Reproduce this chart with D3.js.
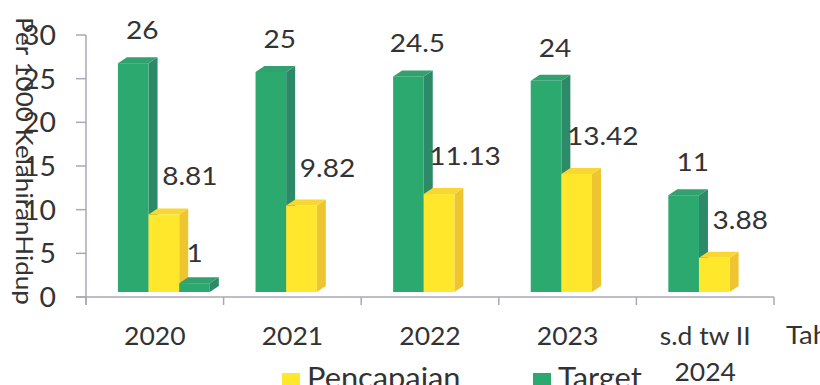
<!DOCTYPE html>
<html>
<head>
<meta charset="utf-8">
<script src="https://cdn.jsdelivr.net/npm/d3@7"></script>
<style>
  html, body { margin: 0; padding: 0; background: #ffffff; }
  svg { display: block; }
  text { font-family: Lato, "Open Sans", sans-serif; fill: #333333; }
</style>
</head>
<body>
<svg id="chart" width="820" height="385"></svg>
<script>
// Angka per 1000 kelahiran hidup, target vs pencapaian
const categories = ["2020", "2021", "2022", "2023", "s.d tw II\n2024"];
const targetValues = [26, 25, 24.5, 24, 11];
const pencapaianValues = [8.81, 9.82, 11.13, 13.42, 3.88];
const extraValues = [1, null, null, null, null];
const yTicks = [0, 5, 10, 15, 20, 25, 30];

const seriesKeys = ["Target", "Pencapaian", "Tambahan"];
const seriesValues = [targetValues, pencapaianValues, extraValues];

const colors = {
  Target:     { front: "#2ba96f", side: "#2c8a68", top: "#33a070" },
  Pencapaian: { front: "#ffe72b", side: "#efc52f", top: "#f8d733" },
  Tambahan:   { front: "#2ba96f", side: "#2c8a68", top: "#33a070" }
};
// label offsets relative to the bar's front face (dx from centre, dy above top)
const labelOffset = {
  Target: { dx: 9, dy: 24 },
  Pencapaian: { dx: 26, dy: 29 },
  Tambahan: { dx: 0, dy: 21 }
};
const stretch = 1.12; // horizontal widening of the text glyphs

const svg = d3.select("#chart");

const axisLeft = 86, axisRight = 774, axisBottom = 297, axisTop = 35;
const depthX = 9, depthY = 6;

// axis scale and the slightly lifted scale of the bars' front faces
const y = d3.scaleLinear().domain([0, 30]).range([axisBottom, axisTop]);
const yFront = d3.scaleLinear().domain([0, 30]).range([292, 28]);
const x0 = d3.scaleBand().domain(categories).range([axisLeft, axisRight]).padding(0);
const bw = x0.bandwidth();
const x1 = d3.scaleBand().domain(seriesKeys).range([bw * 0.232, bw * 0.9]).padding(0);

const axisColor = "#a8a8b8";

function label(sel, x, yy, str, size, anchor, sx) {
  return sel.append("text")
    .attr("transform", `translate(${x},${yy}) scale(${sx || stretch},1)`)
    .attr("text-anchor", anchor || "start")
    .attr("font-size", size)
    .text(str);
}

// y axis
const gy = svg.append("g");
gy.append("line")
  .attr("x1", axisLeft).attr("x2", axisLeft)
  .attr("y1", y(30)).attr("y2", axisBottom + 8)
  .attr("stroke", axisColor).attr("stroke-width", 1.5);
gy.selectAll(".ytick").data(yTicks).join("line")
  .attr("x1", axisLeft - 10).attr("x2", axisLeft)
  .attr("y1", d => y(d)).attr("y2", d => y(d))
  .attr("stroke", axisColor).attr("stroke-width", 1.5);
yTicks.forEach(t => label(gy, 56, y(t) + 10, t, 27, "end", 1.05));

// x axis
const gx = svg.append("g");
gx.append("line")
  .attr("x1", axisLeft - 10).attr("x2", axisRight)
  .attr("y1", axisBottom).attr("y2", axisBottom)
  .attr("stroke", axisColor).attr("stroke-width", 1.5);
const boundaries = categories.map(c => x0(c)).concat([axisRight]);
gx.selectAll(".xtick").data(boundaries).join("line")
  .attr("x1", d => d).attr("x2", d => d)
  .attr("y1", axisBottom).attr("y2", axisBottom + 8)
  .attr("stroke", axisColor).attr("stroke-width", 1.5);
categories.forEach(c => {
  c.split("\n").forEach((line, i) => {
    label(gx, x0(c) + bw / 2, 345 + i * 36, line, 25, "middle", 1.06);
  });
});

// axis title on the right end
label(svg, 786, 344, "Tahun", 25, "start", 1.1);

// y axis title, reading top to bottom
svg.append("text")
  .attr("transform", "translate(16,17) rotate(90)")
  .attr("font-size", 23)
  .attr("textLength", 288)
  .attr("lengthAdjust", "spacingAndGlyphs")
  .text("Per 1000 KelahiranHidup");

// 3D bars, drawn left to right so each bar covers the side of the previous one
const bars = [];
categories.forEach((c, ci) => {
  seriesKeys.forEach((k, si) => {
    const v = seriesValues[si][ci];
    if (v === null || v === undefined) return;
    bars.push({ cat: c, key: k, value: v });
  });
});

const gb = svg.append("g");
const gv = svg.append("g");
bars.forEach(b => {
  const xl = x0(b.cat) + x1(b.key);
  const xr = xl + x1.bandwidth();
  const yb = yFront(0);
  const yt = yFront(b.value);
  const col = colors[b.key];
  const g = gb.append("g");
  // side face
  g.append("path")
    .attr("d", `M${xr},${yb} L${xr},${yt} L${xr + depthX},${yt - depthY} L${xr + depthX},${yb - depthY} Z`)
    .attr("fill", col.side);
  // top face
  g.append("path")
    .attr("d", `M${xl},${yt} L${xl + depthX},${yt - depthY} L${xr + depthX},${yt - depthY} L${xr},${yt} Z`)
    .attr("fill", col.top);
  // front face
  g.append("rect")
    .attr("x", xl).attr("y", yt)
    .attr("width", xr - xl).attr("height", yb - yt)
    .attr("fill", col.front);
  // value label
  const off = labelOffset[b.key];
  label(gv, (xl + xr) / 2 + off.dx, yt - off.dy, b.value, 25, "middle");
});

// legend
const legend = [
  { key: "Pencapaian", x: 282 },
  { key: "Target", x: 533 }
];
const gl = svg.append("g");
legend.forEach(l => {
  gl.append("rect")
    .attr("x", l.x).attr("y", 373)
    .attr("width", 18).attr("height", 18)
    .attr("fill", colors[l.key].front);
  label(gl, l.x + 25, 388, l.key, 28, "start", 1.1);
});
</script>
</body>
</html>
